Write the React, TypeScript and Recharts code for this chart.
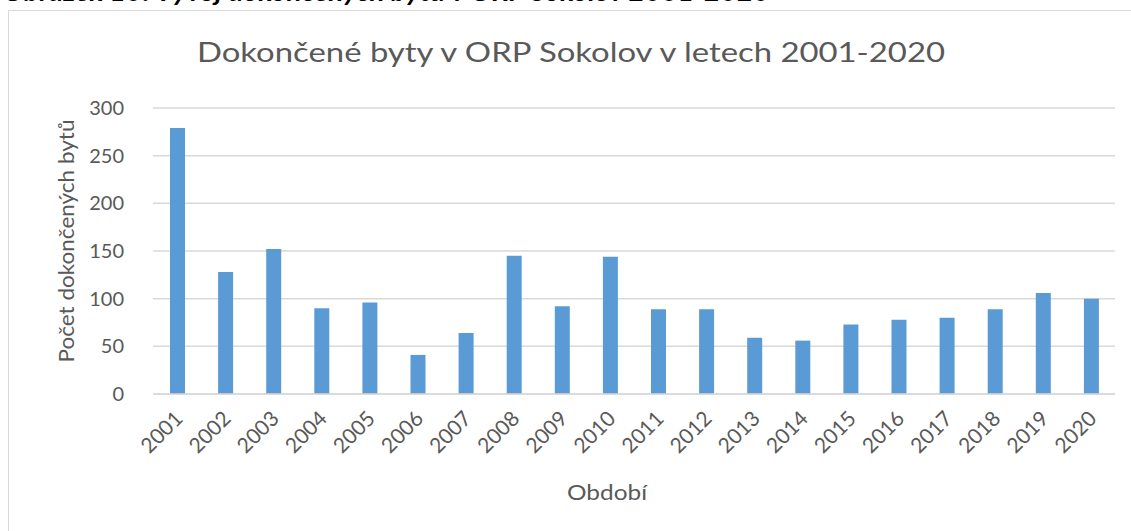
import React from 'react';
import { BarChart, Bar, XAxis, YAxis, CartesianGrid } from 'recharts';

const years = ['2001', '2002', '2003', '2004', '2005', '2006', '2007', '2008', '2009', '2010', '2011', '2012', '2013', '2014', '2015', '2016', '2017', '2018', '2019', '2020'];
const completedFlats = [279, 128, 152, 90, 96, 41, 64, 145, 92, 144, 89, 89, 59, 56, 73, 78, 80, 89, 106, 100];
const yTicks = [0, 50, 100, 150, 200, 250, 300];

const chartTitle = 'Dokončené byty v ORP Sokolov v letech 2001-2020';
const captionText = 'Obrázek 10: Vývoj dokončených bytů v ORP Sokolov 2001-2020';
const yAxisTitle = 'Počet dokončených bytů';
const xAxisTitle = 'Období';

const data = years.map((year, i) => ({ year, value: completedFlats[i] }));

const FONT = 'Lato, "Open Sans", sans-serif';
const GRAY = '#595959';

const XTick = (props: any) => {
  const { x, y, payload } = props;
  return (
    <g transform={`translate(${x + 7},${y + 18})`}>
      <text textAnchor="end" transform="rotate(-45)" fill={GRAY} fontSize={21} fontFamily={FONT}>
        {payload.value}
      </text>
    </g>
  );
};

export default function App() {
  return (
    <div style={{ position: 'absolute', left: 0, top: 0, width: 1131, height: 531, overflow: 'hidden', background: '#fff' }}>
      <div style={{ position: 'absolute', left: 8, top: 10, width: 1200, height: 600, border: '1px solid #d9d9d9', boxSizing: 'border-box' }} />
      <div style={{ position: 'absolute', left: 0, top: 0 }}>
        <BarChart width={1131} height={531} data={data} margin={{ top: 108, right: 16, bottom: 0, left: 0 }}>
          <CartesianGrid vertical={false} stroke="#d9d9d9" strokeWidth={1.5} />
          <XAxis
            dataKey="year"
            axisLine={{ stroke: '#d9d9d9', strokeWidth: 1.5 }}
            tickLine={false}
            tick={<XTick />}
            interval={0}
            height={137}
          />
          <YAxis
            domain={[0, 300]}
            ticks={yTicks}
            width={153}
            axisLine={false}
            tickLine={false}
            tickSize={0}
            tickMargin={29}
            tick={{ fill: GRAY, fontSize: 20, fontFamily: FONT }}
          />
          <Bar dataKey="value" fill="#5b9bd5" barSize={15} isAnimationActive={false} />
          <text x={3} y={1} fill="#000" fontSize={24} fontWeight={700} fontStyle="italic" fontFamily={FONT} textLength={767} lengthAdjust="spacingAndGlyphs">
            {captionText}
          </text>
          <text x={197} y={62} fill={GRAY} fontSize={27} fontWeight={400} fontFamily={FONT} textLength={748} lengthAdjust="spacingAndGlyphs">
            {chartTitle}
          </text>
          <text x={65} y={241} textAnchor="middle" dominantBaseline="central" transform="rotate(-90, 65, 241)" fill={GRAY} fontSize={21} fontFamily={FONT} textLength={243} lengthAdjust="spacingAndGlyphs">
            {yAxisTitle}
          </text>
          <text x={567} y={500} fill={GRAY} fontSize={21} fontFamily={FONT} textLength={80} lengthAdjust="spacingAndGlyphs">
            {xAxisTitle}
          </text>
        </BarChart>
      </div>
    </div>
  );
}
